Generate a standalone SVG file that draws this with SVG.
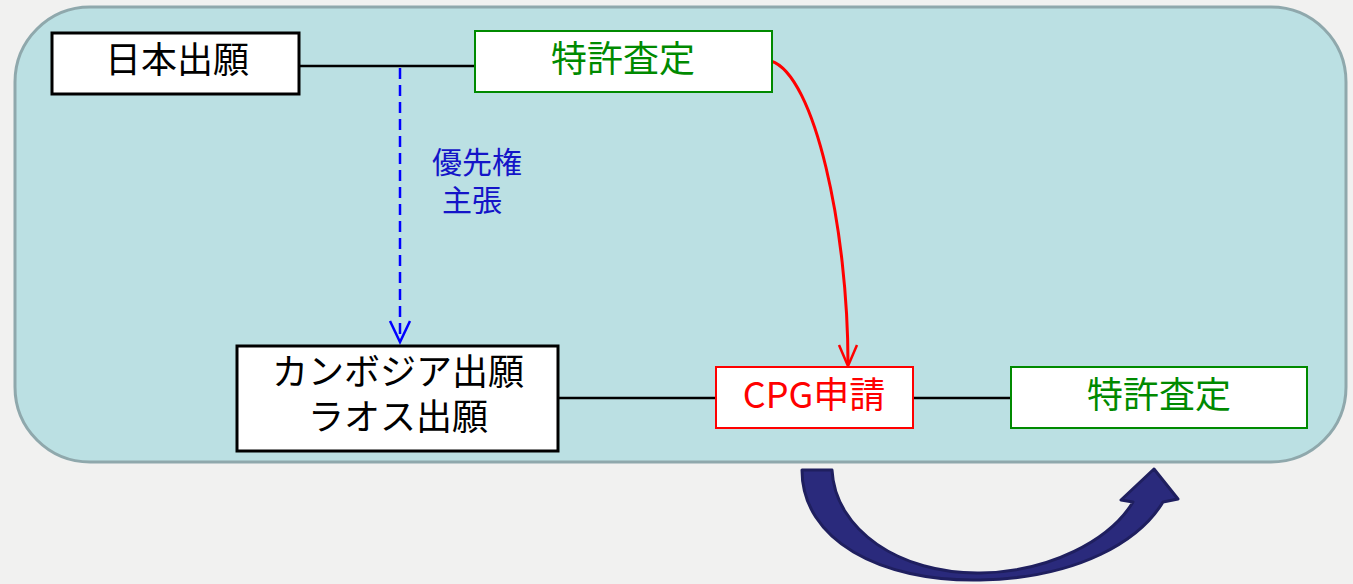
<svg xmlns="http://www.w3.org/2000/svg" width="1353" height="584" viewBox="0 0 1353 584">
<style>
.t{font-family:"Noto Sans CJK JP","Noto Sans",sans-serif;font-size:36px;text-anchor:middle}
.k{fill:#000}
.g{fill:#008a00}
.r{fill:#ff0000}
.b{fill:#1414c8;font-size:30px}
.bx{fill:#fff}
.wire{stroke:#000;stroke-width:2.5;fill:none}
</style>
<rect width="1353" height="584" fill="#f1f1f0"/>
<rect x="15" y="7" width="1331" height="455" rx="75" ry="75" fill="#bbe0e3" stroke="#8fa8ac" stroke-width="3"/>
<g id="connectors">
<line class="wire" x1="299" y1="66" x2="475" y2="66"/>
<line class="wire" x1="558" y1="398" x2="716" y2="398"/>
<line class="wire" x1="913" y1="398" x2="1011" y2="398"/>
<line x1="400" y1="68" x2="400" y2="340" stroke="#0000ff" stroke-width="2.5" stroke-dasharray="11,6"/>
<polyline points="390,321 400,342 410,321" fill="none" stroke="#0000ff" stroke-width="2.5"/>
<path d="M771,61 C815,75 848,230 848,364" fill="none" stroke="#ff0000" stroke-width="3"/>
<polyline points="839,345 848,366 857,345" fill="none" stroke="#ff0000" stroke-width="2.5"/>
<path d="M802,470 C802,540 880,582 980,580 C1080,578 1140,540 1163,502 L1178,499 L1154,469 L1121,500 L1133,502 C1110,540 1050,572 980,573 C900,574 835,530 832,470 Z" fill="#2a2a7c" stroke="#1f1f5f" stroke-width="3" stroke-linejoin="round"/>
</g>
<g id="label-priority">
<text class="t b" x="477" y="173">優先権</text>
<text class="t b" x="472" y="211">主張</text>
</g>
<g id="node-jp">
<rect class="bx" x="52" y="33" width="247" height="61" stroke="#000" stroke-width="3"/>
<text class="t k" x="177" y="73">日本出願</text>
</g>
<g id="node-grant1">
<rect class="bx" x="475" y="31" width="297" height="61" stroke="#008a00" stroke-width="2"/>
<text class="t g" x="623" y="72">特許査定</text>
</g>
<g id="node-kh">
<rect class="bx" x="237" y="346" width="321" height="105" stroke="#000" stroke-width="3"/>
<text class="t k" x="398" y="385">カンボジア出願</text>
<text class="t k" x="398" y="430">ラオス出願</text>
</g>
<g id="node-cpg">
<rect class="bx" x="716" y="367" width="197" height="61" stroke="#ff0000" stroke-width="2"/>
<text class="t r" x="814" y="408">CPG申請</text>
</g>
<g id="node-grant2">
<rect class="bx" x="1011" y="367" width="296" height="61" stroke="#008a00" stroke-width="2"/>
<text class="t g" x="1159" y="408">特許査定</text>
</g>
</svg>
